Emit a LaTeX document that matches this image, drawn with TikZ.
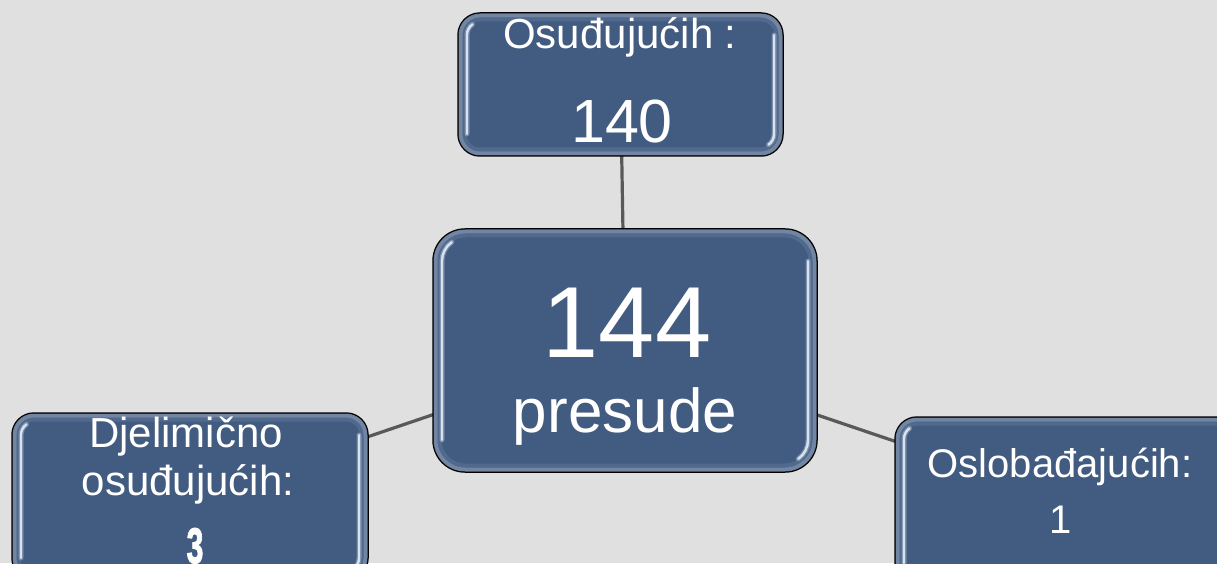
\documentclass[tikz,border=0pt]{standalone}
\usepackage{fontspec}
\setmainfont{Liberation Sans}
\newfontface\heavyface{Liberation Sans Bold}[FakeBold=2.5]
\usepackage{graphicx}
\usetikzlibrary{calc}
\definecolor{bgc}{HTML}{E0E0E0}
\definecolor{boxc}{HTML}{425B80}
\definecolor{linec}{HTML}{595959}
\definecolor{rimc}{HTML}{9AAAC2}
\definecolor{rimd}{HTML}{6F84A4}
\definecolor{hlc}{HTML}{E4ECF8}
\pgfdeclarelayer{bg}
\pgfsetlayers{bg,main}
\newcommand{\fsz}[1]{\fontsize{#1pt}{#1pt}\selectfont}
\tikzset{
  box/.style={draw=black, line width=1.5pt, fill=boxc, rounded corners=#1, outer sep=0pt, inner sep=0pt},
  conn/.style={draw=linec, line width=3.2pt},
  txt/.style={text=white, anchor=base, inner sep=0pt, outer sep=0pt},
  rimA/.style={draw=rimc, line width=4pt, opacity=0.55},
  rimB/.style={draw=rimd, line width=4pt, opacity=0.35},
  glow/.style={draw=hlc, line width=5pt, opacity=0.3, line cap=round},
  hl/.style={draw=hlc, line width=2.4pt, opacity=0.9, line cap=round}
}
\newcommand{\decor}[2]{%
  \pgfmathsetmacro\rA{#2-2.5}%
  \pgfmathsetmacro\rC{#2-6.5}%
  \pgfmathsetmacro\rB{#2-9}%
  \draw[rimA, rounded corners=\rA pt] ($(#1.north west)+(2.5,-2.5)$) rectangle ($(#1.south east)+(-2.5,2.5)$);
  \draw[rimB, rounded corners=\rC pt] ($(#1.north west)+(6.5,-6.5)$) rectangle ($(#1.south east)+(-6.5,6.5)$);
  \foreach \s in {glow,hl}{%
    \draw[\s] ($(#1.north west)+(#2,-#2)$) ++(125:\rB) arc[start angle=125,end angle=180,radius=\rB] -- ($(#1.south west)+(9,#2)$);
    \draw[\s] ($(#1.north east)+(-9,-#2)$) -- ($(#1.south east)+(-9,#2)$) arc[start angle=0,end angle=-55,radius=\rB];
  }%
}
\begin{document}
\begin{tikzpicture}[x=1pt,y=1pt]
\useasboundingbox (0,0) rectangle (1217,563);
% boxes
\node[box=22pt, minimum width=325pt, minimum height=143pt] (T) at (620.5,478.5) {};
\node[box=32pt, minimum width=384pt, minimum height=243pt] (C) at (625,212.5) {};
\node[box=22pt, minimum width=356pt, minimum height=167pt] (L) at (190,66.5) {};
\node[box=22pt, minimum width=356pt, minimum height=168pt] (R) at (1073,62) {};
\begin{pgfonlayer}{bg}
\fill[bgc] (0,0) rectangle (1217,563);
\draw[conn] (T) -- (C);
\draw[conn] (L) -- (C);
\draw[conn] (C) -- (R);
\end{pgfonlayer}
\decor{T}{22}
\decor{C}{32}
\decor{L}{22}
\decor{R}{22}
% texts
\node[txt] (t1) at (620,514) {\fsz{42}Osuđujućih :};
\node[txt] (t2) at (622,420) {\fsz{61}140};
\node[txt] (c1) at (627,206) {\fsz{101}144};
\node[txt] (c2) at (625,131) {\fsz{62}presude};
\node[txt] (l1) at (186,116) {\fsz{42}Djelimično};
\node[txt] (l2) at (188,68) {\fsz{42}osuđujućih:};
\node[txt] (l3) at (195,0) {\scalebox{0.6}[1]{\heavyface\fsz{50}3}};
\node[txt] (r1) at (1060,86) {\fsz{40}Oslobađajućih:};
\node[txt] (r2) at (1061,30) {\fsz{40}1};
\end{tikzpicture}
\end{document}
